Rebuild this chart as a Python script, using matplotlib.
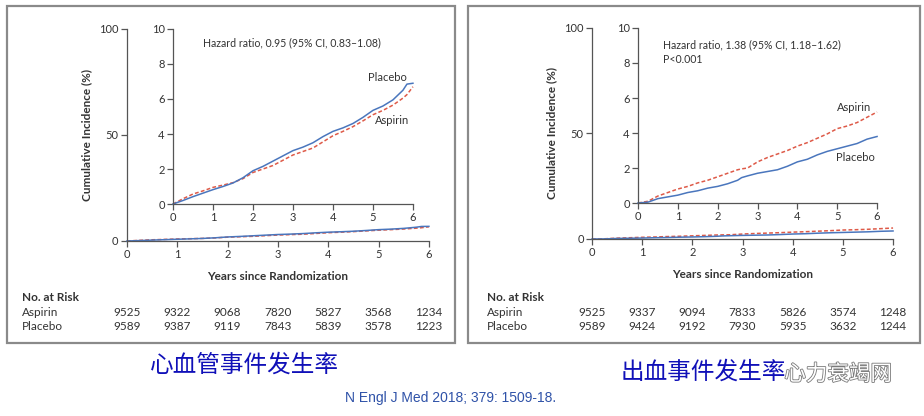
import numpy as np
import matplotlib.pyplot as plt
from matplotlib.patches import Rectangle
import matplotlib.transforms as mtransforms
import matplotlib.patheffects as pe

plt.rcParams['font.family'] = ['Lato', 'DejaVu Sans']

# cardiovascular events (left panel)
cv_years = [0, 0.25, 0.5, 0.75, 1, 1.25, 1.5, 1.75, 2, 2.25, 2.5, 2.75, 3, 3.25, 3.5, 3.75,
            4, 4.25, 4.5, 4.75, 5, 5.25, 5.5, 5.75, 5.85, 6]
cv_placebo = [0, 0.2, 0.42, 0.62, 0.82, 1.0, 1.2, 1.5, 1.9, 2.15, 2.45, 2.75, 3.05, 3.25, 3.5, 3.85,
              4.15, 4.35, 4.6, 4.95, 5.35, 5.6, 5.95, 6.5, 6.85, 6.9]
cv_aspirin = [0, 0.3, 0.57, 0.75, 0.95, 1.08, 1.22, 1.45, 1.8, 2.0, 2.2, 2.5, 2.8, 3.0, 3.2, 3.55,
              3.9, 4.15, 4.42, 4.75, 5.1, 5.35, 5.65, 6.05, 6.25, 6.7]

# bleeding events (right panel)
bl_years = [0, 0.25, 0.5, 0.75, 1, 1.25, 1.5, 1.75, 2, 2.25, 2.5, 2.6, 2.75, 3, 3.25, 3.5, 3.75,
            4, 4.25, 4.5, 4.75, 5, 5.25, 5.5, 5.75, 6]
bl_aspirin = [0, 0.1, 0.4, 0.6, 0.8, 0.95, 1.15, 1.3, 1.5, 1.7, 1.9, 1.95, 2.0, 2.35, 2.6, 2.8, 3.0,
              3.25, 3.45, 3.7, 3.95, 4.25, 4.4, 4.6, 4.9, 5.2]
bl_placebo = [0, 0.05, 0.25, 0.35, 0.45, 0.6, 0.7, 0.85, 0.95, 1.1, 1.3, 1.45, 1.55, 1.7, 1.8, 1.9, 2.1,
              2.35, 2.5, 2.75, 2.95, 3.1, 3.25, 3.4, 3.65, 3.8]

year_ticks = [0, 1, 2, 3, 4, 5, 6]
cv_risk_aspirin = [9525, 9322, 9068, 7820, 5827, 3568, 1234]
cv_risk_placebo = [9589, 9387, 9119, 7843, 5839, 3578, 1223]
bl_risk_aspirin = [9525, 9337, 9094, 7833, 5826, 3574, 1248]
bl_risk_placebo = [9589, 9424, 9192, 7930, 5935, 3632, 1244]

blue = '#4a76bd'
red = '#de5a48'
txt = '#333333'

fig = plt.figure(figsize=(9.24, 4.16), dpi=100)


def style_axes(ax, ymax, yticks):
    ax.set_xlim(0, 6)
    ax.set_ylim(0, ymax)
    ax.set_xticks(year_ticks)
    ax.set_yticks(yticks)
    ax.spines['top'].set_visible(False)
    ax.spines['right'].set_visible(False)
    for s in ['left', 'bottom']:
        ax.spines[s].set_color('#555555')
        ax.spines[s].set_linewidth(0.9)
    ax.tick_params(direction='out', length=4, width=0.9, color='#555555',
                   labelsize=8, labelcolor=txt, pad=2)
    ax.patch.set_alpha(0)


def panel(main_rect, inset_rect, years, placebo, aspirin, risk_a, risk_p,
          hr_text, hr_pos, lab_pos, box_rect, risk_x):
    box = Rectangle(box_rect[:2], box_rect[2], box_rect[3], transform=fig.transFigure,
                    fill=False, edgecolor='#8a8a8a', linewidth=1.6)
    fig.patches.append(box)

    ax = fig.add_axes(main_rect)
    style_axes(ax, 100, [0, 50, 100])
    ax.plot(years, aspirin, color=red, lw=1.1, ls=(0, (2.5, 1.5)), clip_on=False)
    ax.plot(years, placebo, color=blue, lw=1.1, clip_on=False)
    ax.set_ylabel('Cumulative Incidence (%)', fontsize=8.5, fontweight='bold', color=txt, labelpad=5)
    ax.set_xlabel('Years since Randomization', fontsize=8.5, fontweight='bold', color=txt, labelpad=8)

    ins = fig.add_axes(inset_rect)
    style_axes(ins, 10, [0, 2, 4, 6, 8, 10])
    ins.plot(years, aspirin, color=red, lw=1.1, ls=(0, (2.5, 1.5)), clip_on=False)
    ins.plot(years, placebo, color=blue, lw=1.1, clip_on=False)
    ins.text(hr_pos[0], hr_pos[1], hr_text, fontsize=7.6, color=txt, va='top', linespacing=1.4)
    ins.text(lab_pos[0][0], lab_pos[0][1], 'Placebo', fontsize=8, color=txt, ha='right')
    ins.text(lab_pos[1][0], lab_pos[1][1], 'Aspirin', fontsize=8, color=txt, ha='right')

    trans = mtransforms.blended_transform_factory(ax.transData, fig.transFigure)
    fig.text(risk_x, 0.285, 'No. at Risk', fontsize=8.5, fontweight='bold', color=txt, va='center')
    fig.text(risk_x, 0.250, 'Aspirin', fontsize=8.5, color=txt, va='center')
    fig.text(risk_x, 0.215, 'Placebo', fontsize=8.5, color=txt, va='center')
    for x, a, p in zip(year_ticks, risk_a, risk_p):
        ax.text(x, 0.250, str(a), transform=trans, fontsize=8.5, color=txt, ha='center', va='center')
        ax.text(x, 0.215, str(p), transform=trans, fontsize=8.5, color=txt, ha='center', va='center')


panel([0.1374, 0.4207, 0.3268, 0.5096], [0.1872, 0.5096, 0.2597, 0.4207],
      cv_years, cv_placebo, cv_aspirin, cv_risk_aspirin, cv_risk_placebo,
      'Hazard ratio, 0.95 (95% CI, 0.83\u20131.08)', (0.75, 9.55),
      [(5.85, 7.05), (5.9, 4.6)], [0.0076, 0.1755, 0.4848, 0.8101], 0.024)

panel([0.6407, 0.4255, 0.3258, 0.5072], [0.6905, 0.5120, 0.2587, 0.4207],
      bl_years, bl_placebo, bl_aspirin, bl_risk_aspirin, bl_risk_placebo,
      'Hazard ratio, 1.38 (95% CI, 1.18\u20131.62)\nP<0.001', (0.62, 9.35),
      [(5.95, 2.4), (5.85, 5.25)], [0.5065, 0.1755, 0.4892, 0.8101], 0.527)

cjk = ['Noto Sans CJK SC', 'DejaVu Sans']
fig.text(0.265, 0.122, '心血管事件发生率', family=cjk, fontsize=17, color='#1010b8',
         ha='center', va='center')
fig.text(0.761, 0.105, '出血事件发生率', family=cjk, fontsize=17, color='#1010b8',
         ha='center', va='center')
fig.text(0.907, 0.100, '心力衰竭网', family=cjk, fontsize=15.5, color='white',
         ha='center', va='center',
         path_effects=[pe.withStroke(linewidth=1.2, foreground='#7a7a7a')])
fig.text(0.488, 0.043, 'N Engl J Med 2018; 379: 1509-18.', family=['Liberation Sans'],
         fontsize=10, color='#2f52a8', ha='center', va='center')

fig.savefig('out.png', dpi=100)
